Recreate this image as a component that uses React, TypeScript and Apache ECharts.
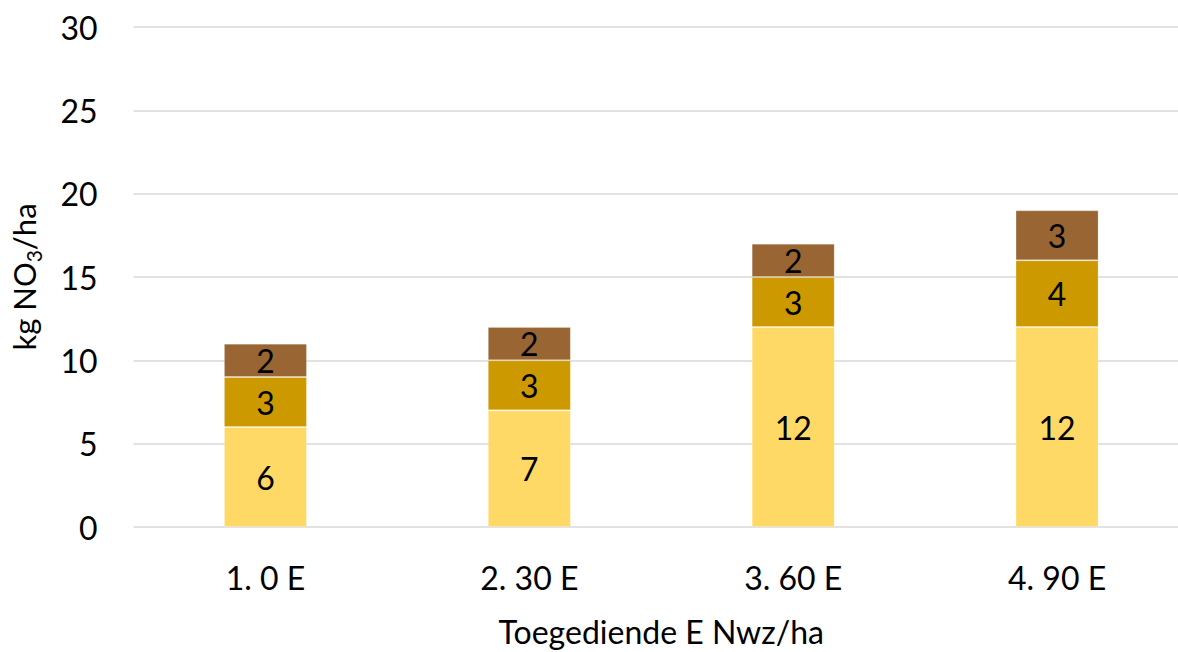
import React, { useEffect, useRef } from "react";
import * as echarts from "echarts";

const categories = ["1. 0 E", "2. 30 E", "3. 60 E", "4. 90 E"];
const seriesBottom = [6, 7, 12, 12];
const seriesMiddle = [3, 3, 3, 4];
const seriesTop = [2, 2, 2, 3];
const colors = ["#FFD966", "#CC9900", "#996633"];

const FONT = "Lato";

export default function App() {
  const ref = useRef<HTMLDivElement>(null);
  useEffect(() => {
    document.body.style.margin = "0";
    document.body.style.overflow = "hidden";
    const chart = echarts.init(ref.current!, null, { renderer: "svg" });
    const label = {
      show: true,
      position: "inside",
      color: "#000",
      fontSize: 32,
      fontFamily: FONT,
    };
    const mk = (name: string, data: number[], color: string) => ({
      name,
      type: "bar",
      stack: "total",
      data,
      barWidth: 83,
      itemStyle: { color, borderColor: "rgba(255,255,255,0.2)", borderWidth: 1 },
      label,
    });
    chart.setOption({
      animation: false,
      textStyle: { fontFamily: FONT },
      grid: { left: 130, right: 0, top: 27, bottom: 121, containLabel: false },
      xAxis: {
        type: "category",
        data: categories,
        axisLine: { show: false },
        axisTick: { show: false },
        axisLabel: { color: "#000", fontSize: 32, fontFamily: FONT, margin: 34 },
        name: "Toegediende E Nwz/ha",
        nameLocation: "middle",
        nameGap: 88,
        nameTextStyle: { color: "#000", fontSize: 32, fontFamily: FONT },
      },
      yAxis: {
        type: "value",
        min: 0,
        max: 30,
        interval: 5,
        axisLine: { show: false },
        axisTick: { show: false },
        splitLine: { lineStyle: { color: "#d9d9d9", width: 1.5 } },
        axisLabel: { color: "#000", fontSize: 32, fontFamily: FONT, margin: 36 },
        name: "{a|kg NO}{s|3}{a|/ha}",
        nameLocation: "middle",
        nameRotate: 90,
        nameGap: 90,
        nameTextStyle: {
          color: "#000",
          fontFamily: FONT,
          rich: {
            a: { fontSize: 31, fontFamily: FONT, color: "#000", lineHeight: 40 },
            s: { fontSize: 21, fontFamily: FONT, color: "#000", verticalAlign: "bottom", lineHeight: 30 },
          },
        },
      },
      series: [
        mk("a", seriesBottom, colors[0]),
        mk("b", seriesMiddle, colors[1]),
        mk("c", seriesTop, colors[2]),
      ],
    });
    return () => chart.dispose();
  }, []);
  return (
    <div style={{ width: 1178, height: 652, overflow: "hidden" }}>
      <div ref={ref} style={{ width: 1189, height: 652 }} />
    </div>
  );
}
